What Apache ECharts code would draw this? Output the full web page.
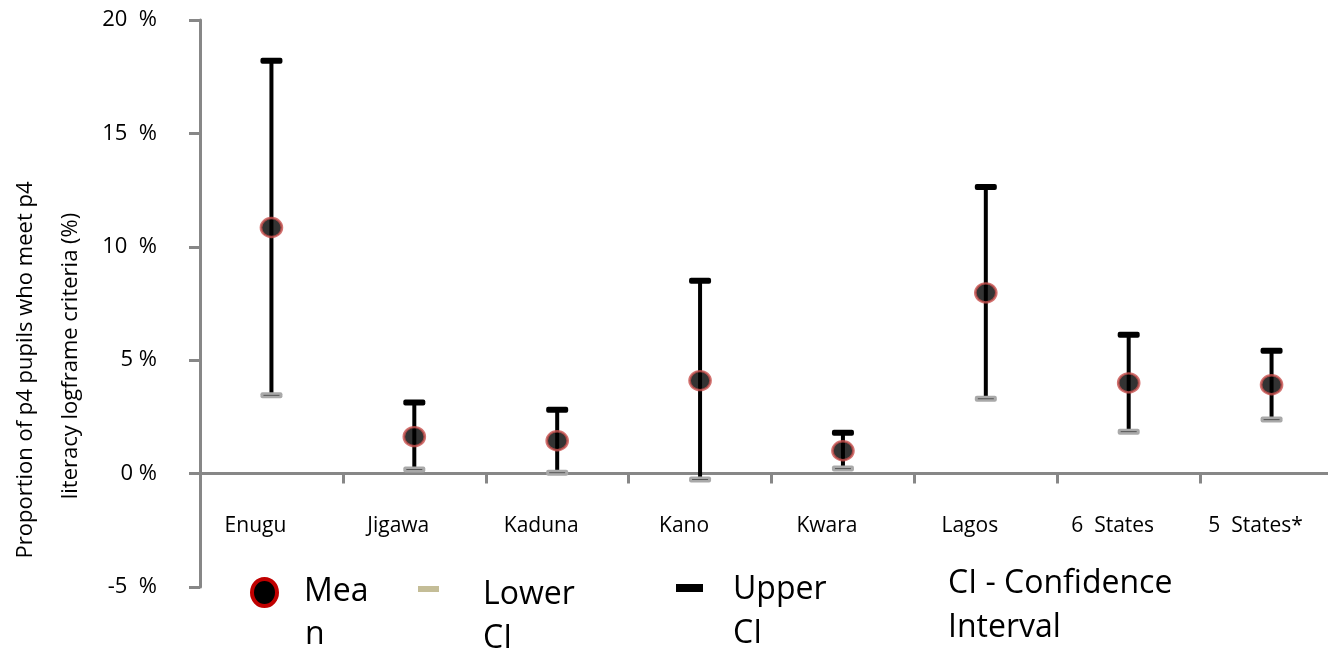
<!DOCTYPE html>
<html>
<head>
<meta charset="utf-8">
<script src="https://cdn.jsdelivr.net/npm/echarts@6/dist/echarts.min.js"></script>
<style>
html,body{margin:0;padding:0;background:#fff;}
#chart{width:1328px;height:649px;}
</style>
</head>
<body>
<div id="chart"></div>
<script>
var categories = ['Enugu', 'Jigawa', 'Kaduna', 'Kano', 'Kwara', 'Lagos', '6  States', '5  States*'];
var meanValues = [10.85, 1.63, 1.45, 4.1, 1.01, 7.97, 4.0, 3.92];
var lowerCI = [3.45, 0.18, 0.04, -0.26, 0.22, 3.3, 1.85, 2.38];
var upperCI = [18.2, 3.13, 2.82, 8.5, 1.8, 12.64, 6.12, 5.42];
var yTickValues = [-5, 0, 5, 10, 15, 20];
var yTickLabels = ['-5  %', '0 %', '5 %', '10  %', '15  %', '20  %'];
var yTitleLines = ['Proportion of p4 pupils who meet p4', 'literacy logframe criteria (%)'];
var legendLabels = [['Mea', 'n'], ['Lower', 'CI'], ['Upper', 'CI'], ['CI - Confidence', 'Interval']];

var FONT = 'Open Sans';
var AXIS_COLOR = '#878787';

var errData = categories.map(function (c, i) { return [i, lowerCI[i], upperCI[i]]; });
var meanData = categories.map(function (c, i) { return [i, meanValues[i]]; });

var chart = echarts.init(document.getElementById('chart'));

function legendText(s, x, y) {
  return { type: 'text', x: x, y: y,
    style: { text: s, font: '32px "' + FONT + '"', fill: '#000', verticalAlign: 'middle' } };
}

var graphics = [
  { type: 'text', x: 26, y: 370, rotation: Math.PI / 2,
    style: { text: yTitleLines[0], font: '22px "' + FONT + '"', fill: '#000', align: 'center', verticalAlign: 'middle' } },
  { type: 'text', x: 71, y: 356, rotation: Math.PI / 2,
    style: { text: yTitleLines[1], font: '22px "' + FONT + '"', fill: '#000', align: 'center', verticalAlign: 'middle' } },
  { type: 'ellipse', shape: { cx: 264.5, cy: 592.5, rx: 12.5, ry: 13.5 },
    style: { fill: '#000', stroke: '#c00000', lineWidth: 4 } },
  { type: 'rect', shape: { x: 418, y: 586, width: 21, height: 6 }, style: { fill: '#c4bd97' } },
  { type: 'rect', shape: { x: 676, y: 584, width: 27, height: 8 }, style: { fill: '#000' } },
  legendText(legendLabels[0][0], 304, 592),
  legendText(legendLabels[0][1], 305, 635),
  legendText(legendLabels[1][0], 483, 595),
  legendText(legendLabels[1][1], 483, 639),
  legendText(legendLabels[2][0], 733, 590),
  legendText(legendLabels[2][1], 733, 634),
  legendText(legendLabels[3][0], 948, 584),
  legendText(legendLabels[3][1], 948, 628)
];

var option = {
  animation: false,
  backgroundColor: '#fff',
  textStyle: { fontFamily: FONT },
  grid: { left: 200, top: 20, width: 1143, height: 567, containLabel: false, outerBoundsMode: 'none' },
  xAxis: {
    type: 'category',
    data: categories,
    boundaryGap: true,
    offset: 0,
    axisLine: { show: true, onZero: false, lineStyle: { color: AXIS_COLOR, width: 3 } },
    axisTick: { show: true, length: 10, alignWithLabel: false, lineStyle: { color: AXIS_COLOR, width: 3 } },
    axisLabel: { interval: 0, margin: 42, fontSize: 21, color: '#000', fontFamily: FONT, padding: [0, 32, 0, 0] },
    splitLine: { show: false }
  },
  yAxis: {
    type: 'value',
    min: -5, max: 20, interval: 5,
    axisLine: { show: true, lineStyle: { color: AXIS_COLOR, width: 3 } },
    axisTick: { show: true, length: 11, lineStyle: { color: AXIS_COLOR, width: 3 } },
    axisLabel: {
      margin: 43, fontSize: 22, color: '#000', fontFamily: FONT, padding: [10, 0, 0, 0],
      formatter: function (v) { var k = yTickValues.indexOf(v); return k >= 0 ? yTickLabels[k] : ''; }
    },
    splitLine: { show: false }
  },
  series: [
    {
      type: 'custom',
      name: 'CI',
      data: errData,
      z: 2,
      clip: false,
      renderItem: function (params, api) {
        var lo = api.coord([api.value(0), api.value(1)]);
        var hi = api.coord([api.value(0), api.value(2)]);
        return {
          type: 'group',
          children: [
            { type: 'line', shape: { x1: hi[0], y1: hi[1], x2: lo[0], y2: lo[1] }, style: { stroke: '#000', lineWidth: 4 } },
            { type: 'rect', shape: { x: lo[0] - 11, y: lo[1] - 3, width: 22, height: 6, r: 2 }, style: { fill: '#a9a9a9' } },
            { type: 'line', shape: { x1: lo[0] - 8, y1: lo[1], x2: lo[0] + 8, y2: lo[1] }, style: { stroke: '#555', lineWidth: 1 } },
            { type: 'rect', shape: { x: hi[0] - 11, y: hi[1] - 3, width: 22, height: 6, r: 2 }, style: { fill: '#000' } }
          ]
        };
      }
    },
    {
      type: 'scatter',
      name: 'Mean',
      data: meanData,
      z: 5,
      symbol: 'circle',
      symbolSize: [21, 19],
      itemStyle: { color: '#000', borderColor: '#c8504d', borderWidth: 2.5 }
    }
  ],
  graphic: graphics
};
chart.setOption(option);

// Move the category axis (line, ticks, labels) up to the y = 0 position, using the library's scale.
var zeroPx = chart.convertToPixel({ yAxisIndex: 0 }, 0);
var bottomPx = chart.convertToPixel({ yAxisIndex: 0 }, -5);
chart.setOption({ xAxis: { offset: -(bottomPx - zeroPx) } });
</script>
</body>
</html>
